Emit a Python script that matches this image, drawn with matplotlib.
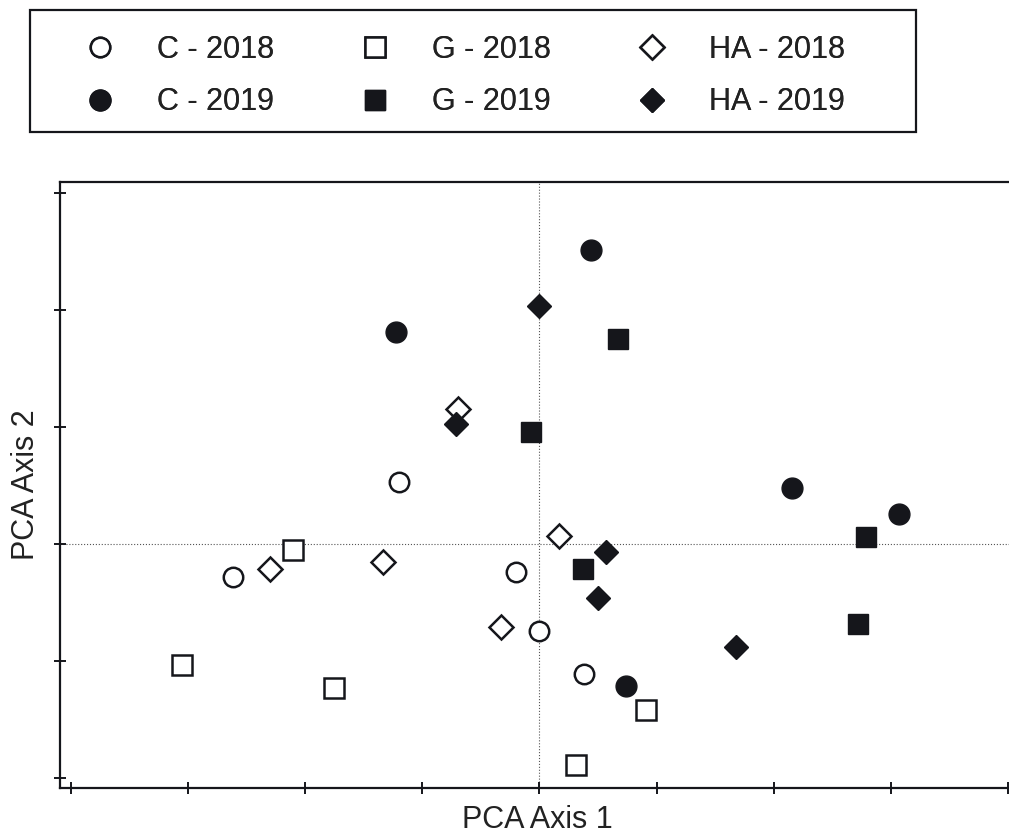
import matplotlib
matplotlib.use("Agg")
import matplotlib.pyplot as plt
from matplotlib.patches import Rectangle

plt.rcParams['font.family'] = ['Liberation Sans', 'DejaVu Sans']

# -------------------------------
# Data (PCA scores)
# -------------------------------
c2018_x = [-2.61, -1.20, -0.20, 0.00, 0.38]
c2018_y = [-0.28, 0.53, -0.24, -0.74, -1.11]
c2019_x = [-1.22, 0.44, 2.16, 3.07, 0.74]
c2019_y = [1.81, 2.51, 0.48, 0.26, -1.21]
g2018_x = [-3.05, -2.10, -1.75, 0.91, 0.31]
g2018_y = [-1.03, -0.05, -1.23, -1.42, -1.89]
g2019_x = [0.67, -0.07, 0.37, 2.79, 2.72]
g2019_y = [1.75, 0.96, -0.21, 0.06, -0.68]
ha2018_x = [-0.69, -2.30, -1.33, -0.33, 0.17]
ha2018_y = [1.15, -0.21, -0.15, -0.71, 0.07]
ha2019_x = [0.00, -0.71, 0.57, 0.50, 1.68]
ha2019_y = [2.03, 1.03, -0.07, -0.46, -0.88]

x_ticks = [-4, -3, -2, -1, 0, 1, 2, 3, 4]
y_ticks = [-2, -1, 0, 1, 2, 3]

INK = '#15161b'

# -------------------------------
# Figure / axes
# -------------------------------
W, H = 1009, 838
fig = plt.figure(figsize=(W / 100, H / 100), dpi=100)
ax = fig.add_axes([60 / W, (H - 788) / H, (1014 - 60) / W, (788 - 182) / H])

ax.axhline(0, color='#555555', lw=0.8, ls=':', zorder=1)
ax.axvline(0, color='#555555', lw=0.8, ls=':', zorder=1)

open_kw = dict(ls='none', mfc='white', mec=INK, mew=1.8)
fill_kw = dict(ls='none', mfc=INK, mec=INK, mew=1.0)

h_c18, = ax.plot(c2018_x, c2018_y, 'o', ms=14, label='C - 2018', **open_kw)
h_c19, = ax.plot(c2019_x, c2019_y, 'o', ms=15, label='C - 2019', **fill_kw)
h_g18, = ax.plot(g2018_x, g2018_y, 's', ms=14, label='G - 2018', **open_kw)
h_g19, = ax.plot(g2019_x, g2019_y, 's', ms=15, label='G - 2019', **fill_kw)
h_h18, = ax.plot(ha2018_x, ha2018_y, 'D', ms=12, label='HA - 2018', **open_kw)
h_h19, = ax.plot(ha2019_x, ha2019_y, 'D', ms=12.5, label='HA - 2019', **fill_kw)

ax.set_xlim(-4.09, 4.05)
ax.set_ylim(-2.085, 3.094)
ax.set_xticks(x_ticks)
ax.set_yticks(y_ticks)
ax.set_xticklabels([])
ax.set_yticklabels([])
ax.tick_params(direction='inout', length=9, width=1.4, color=INK)

for side in ['left', 'bottom', 'top']:
    ax.spines[side].set_linewidth(1.6)
    ax.spines[side].set_color(INK)
ax.spines['right'].set_visible(False)

ax.set_xlabel('PCA Axis 1', fontsize=22, labelpad=4, color='#222222')
ax.set_ylabel('PCA Axis 2', fontsize=22, labelpad=6, color='#222222')

# -------------------------------
# Legend: three columns inside one box
# -------------------------------
fs = 22
cols = [([h_c18, h_c19], 84.7),
        ([h_g18, h_g19], 359.7),
        ([h_h18, h_h19], 636.7)]
for handles, left_px in cols:
    leg = fig.legend(handles=handles, loc='center left',
                     bbox_to_anchor=(left_px / W, 1 - 76 / H),
                     frameon=False, fontsize=fs, handlelength=1.0,
                     handletextpad=1.38, labelspacing=0.75,
                     borderpad=0, borderaxespad=0, numpoints=1)
    for t in leg.get_texts():
        t.set_color('#222222')
    fig.add_artist(leg)

fig.add_artist(Rectangle((30 / W, 1 - 132 / H), 886 / W, 122 / H,
                         transform=fig.transFigure, fill=False,
                         lw=1.6, ec=INK))

fig.savefig('out.png', dpi=100)
plt.close(fig)
